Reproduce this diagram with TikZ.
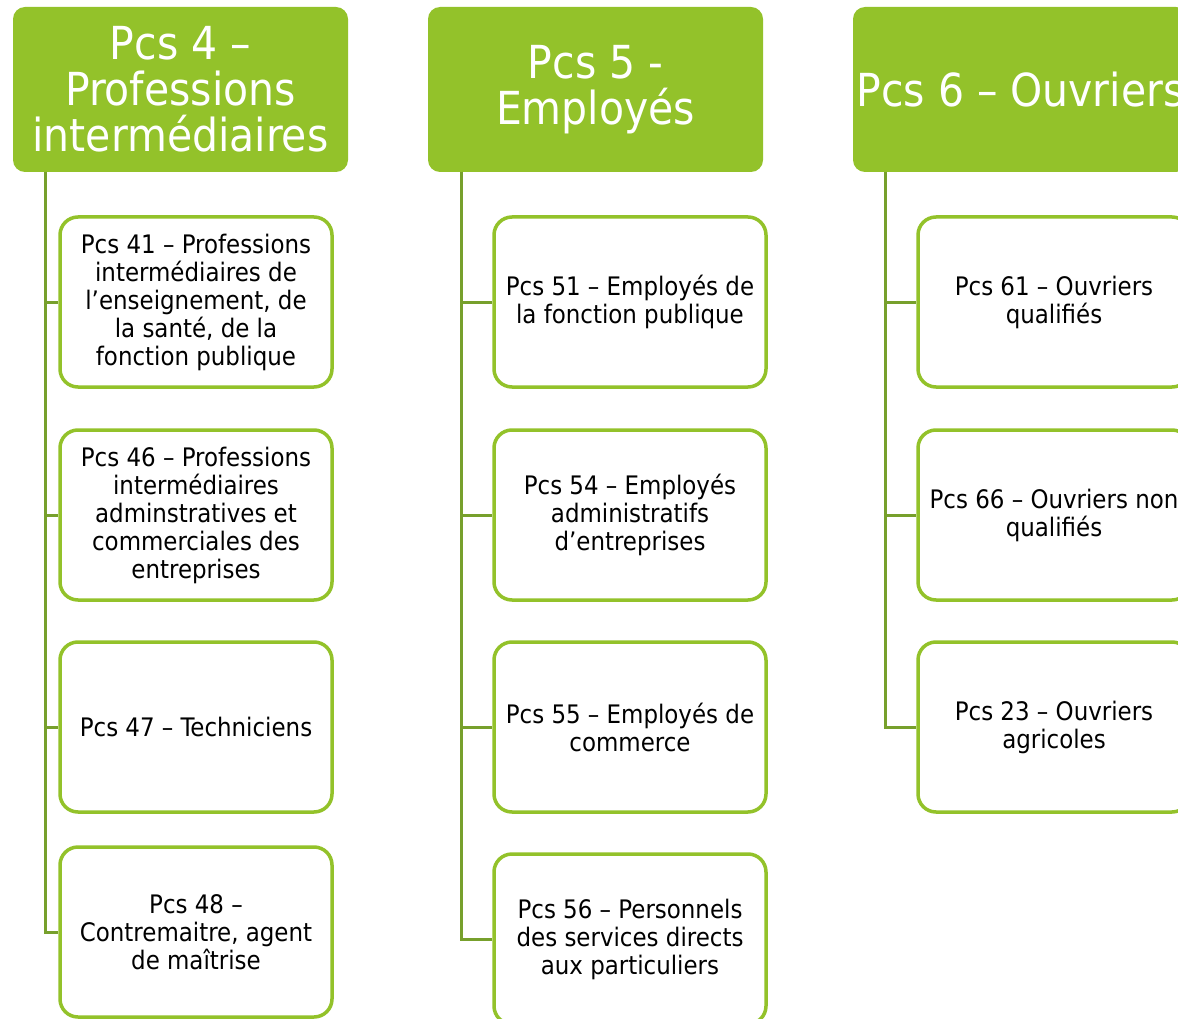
\documentclass[tikz,border=0pt]{standalone}
\usepackage{fontspec}
\setmainfont{DejaVu Sans Condensed}
\definecolor{hdr}{HTML}{93C22A}
\definecolor{brd}{HTML}{93C22A}
\definecolor{conn}{HTML}{77A02C}
\tikzset{
  hbox/.style={fill=hdr, draw=none, rounded corners=12pt, minimum width=335pt, minimum height=165pt,
    text=white, align=center, inner sep=0pt, font=\fontsize{45.5}{46}\selectfont},
  cbox/.style={fill=white, draw=brd, line width=3.5pt, rounded corners=18pt, minimum width=272pt, minimum height=170pt,
    text=black, align=center, inner sep=0pt, font=\fontsize{25.5}{28}\selectfont},
  cline/.style={draw=conn, line width=3pt}
}
\begin{document}
\begin{tikzpicture}[x=1pt,y=-1pt]
\useasboundingbox (0,0) rectangle (1178,1019);
% headers
\node[hbox] (h4) at (180.5,89.5) {Pcs 4 –\\Professions\\intermédiaires};
\node[hbox] (h5) at (595.5,89.5) {Pcs 5 -\\Employés};
\node[hbox] (h6) at (1020.5,89.5) {Pcs 6 – Ouvriers};
% trunk coordinates
\coordinate (t4) at (45,172);
\coordinate (t5) at (461,172);
\coordinate (t6) at (885,172);
% column 1
\node[cbox] (c41) at (196,302) {Pcs 41 – Professions\\intermédiaires de\\l’enseignement, de\\la santé, de la\\fonction publique};
\node[cbox] (c46) at (196,515) {Pcs 46 – Professions\\intermédiaires\\adminstratives et\\commerciales des\\entreprises};
\node[cbox] (c47) at (196,727) {Pcs 47 – Techniciens};
\node[cbox] (c48) at (196,932) {Pcs 48 –\\Contremaitre, agent\\de maîtrise};
% column 2
\node[cbox] (c51) at (630,302) {Pcs 51 – Employés de\\la fonction publique};
\node[cbox] (c54) at (630,515) {Pcs 54 – Employés\\administratifs\\d’entreprises};
\node[cbox] (c55) at (630,727) {Pcs 55 – Employés de\\commerce};
\node[cbox] (c56) at (630,939) {Pcs 56 – Personnels\\des services directs\\aux particuliers};
% column 3
\node[cbox] (c61) at (1054,302) {Pcs 61 – Ouvriers\\qualifiés};
\node[cbox] (c66) at (1054,515) {Pcs 66 – Ouvriers non\\qualifiés};
\node[cbox] (c23) at (1054,727) {Pcs 23 – Ouvriers\\agricoles};
% connectors
\draw[cline] (t4) |- (c41.west);
\draw[cline] (t4) |- (c46.west);
\draw[cline] (t4) |- (c47.west);
\draw[cline] (t4) |- (c48.west);
\draw[cline] (t5) |- (c51.west);
\draw[cline] (t5) |- (c54.west);
\draw[cline] (t5) |- (c55.west);
\draw[cline] (t5) |- (c56.west);
\draw[cline] (t6) |- (c61.west);
\draw[cline] (t6) |- (c66.west);
\draw[cline] (t6) |- (c23.west);
\end{tikzpicture}
\end{document}
